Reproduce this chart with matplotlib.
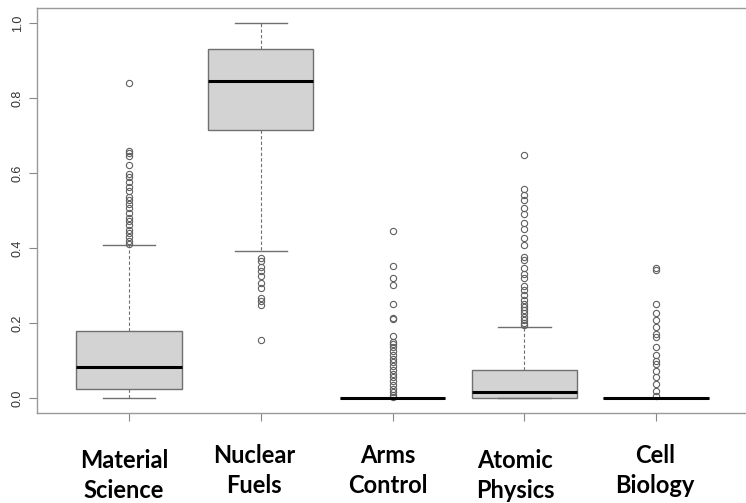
import matplotlib
matplotlib.use("Agg")
import matplotlib.pyplot as plt

# box statistics
categories = ["Material\nScience", "Nuclear\nFuels", "Arms\nControl", "Atomic\nPhysics", "Cell\nBiology"]
whislo = [0.0, 0.393, 0.0, 0.0, 0.0]
q1 = [0.024, 0.715, 0.0, 0.001, 0.0]
med = [0.083, 0.846, 0.0, 0.016, 0.0]
q3 = [0.179, 0.930, 0.0, 0.075, 0.0]
whishi = [0.408, 1.0, 0.0, 0.190, 0.0]

fliers_material = [0.841, 0.660, 0.653, 0.646, 0.621, 0.597, 0.590, 0.577, 0.564, 0.551,
                   0.537, 0.528, 0.517, 0.506, 0.493, 0.480, 0.471, 0.462, 0.449, 0.440,
                   0.429, 0.420, 0.412]
fliers_nuclear = [0.373, 0.365, 0.350, 0.340, 0.325, 0.306, 0.293, 0.267, 0.260, 0.248, 0.155]
fliers_arms = [0.445, 0.352, 0.319, 0.301, 0.250, 0.214, 0.212, 0.165, 0.150, 0.145, 0.135,
               0.125, 0.115, 0.105, 0.095, 0.085, 0.075, 0.065, 0.055, 0.045, 0.035,
               0.025, 0.015, 0.008, 0.003]
fliers_atomic = [0.648, 0.557, 0.541, 0.528, 0.506, 0.492, 0.468, 0.450, 0.426, 0.408,
                 0.377, 0.368, 0.346, 0.332, 0.319, 0.300, 0.288, 0.275, 0.261, 0.250,
                 0.244, 0.235, 0.226, 0.215, 0.208, 0.200, 0.195]
fliers_cell = [0.346, 0.342, 0.252, 0.226, 0.208, 0.190, 0.172, 0.164, 0.137, 0.115, 0.100,
               0.091, 0.073, 0.055, 0.037, 0.020, 0.006]
fliers = [fliers_material, fliers_nuclear, fliers_arms, fliers_atomic, fliers_cell]

label_raise = [0, 1, 1, 0, 1]   # some labels sit a bit higher
yticks = [0.0, 0.2, 0.4, 0.6, 0.8, 1.0]

stats = []
for i in range(len(categories)):
    stats.append({"whislo": whislo[i], "q1": q1[i], "med": med[i], "q3": q3[i],
                  "whishi": whishi[i], "fliers": fliers[i]})

fig = plt.figure(figsize=(7.46, 5.03), dpi=100)
ax = fig.add_axes([37 / 746, 90 / 503, 711 / 746, 405 / 503])

edge = "#707070"
ax.bxp(stats, positions=range(1, 6), widths=0.8, patch_artist=True,
       boxprops=dict(facecolor="#d3d3d3", edgecolor=edge, linewidth=1.0),
       medianprops=dict(color="black", linewidth=2.2, solid_capstyle="butt"),
       whiskerprops=dict(color=edge, linewidth=0.8, linestyle=(0, (3, 2))),
       capprops=dict(color=edge, linewidth=1.0),
       capwidths=0.4,
       flierprops=dict(marker="o", markerfacecolor="none", markeredgecolor="#606060",
                       markersize=4.5, markeredgewidth=0.8))

ax.set_xlim(0.3, 5.7)
ax.set_ylim(-0.04, 1.04)
ax.set_yticks(yticks)
ax.set_yticklabels([f"{t:.1f}" for t in yticks], rotation=90, va="center",
                   fontsize=9, color="#333333", family="Liberation Sans")
ax.set_xticks(range(1, 6))
ax.set_xticklabels([])
ax.tick_params(axis="both", length=6, width=0.8, color="#888888")
for s in ax.spines.values():
    s.set_color("#999999")
    s.set_linewidth(1.0)
ax.spines["right"].set_visible(False)

xs_px = [124, 254, 388, 515, 655]
for i, name in enumerate(categories):
    base = 468 - 5 * label_raise[i]
    for j, line in enumerate(name.split("\n")):
        fig.text(xs_px[i] / 746, 1 - (base + 30 * j) / 503, line, ha="center",
                 va="baseline", fontsize=17, fontweight="bold", family="Lato")

fig.savefig("out.png", dpi=100)
